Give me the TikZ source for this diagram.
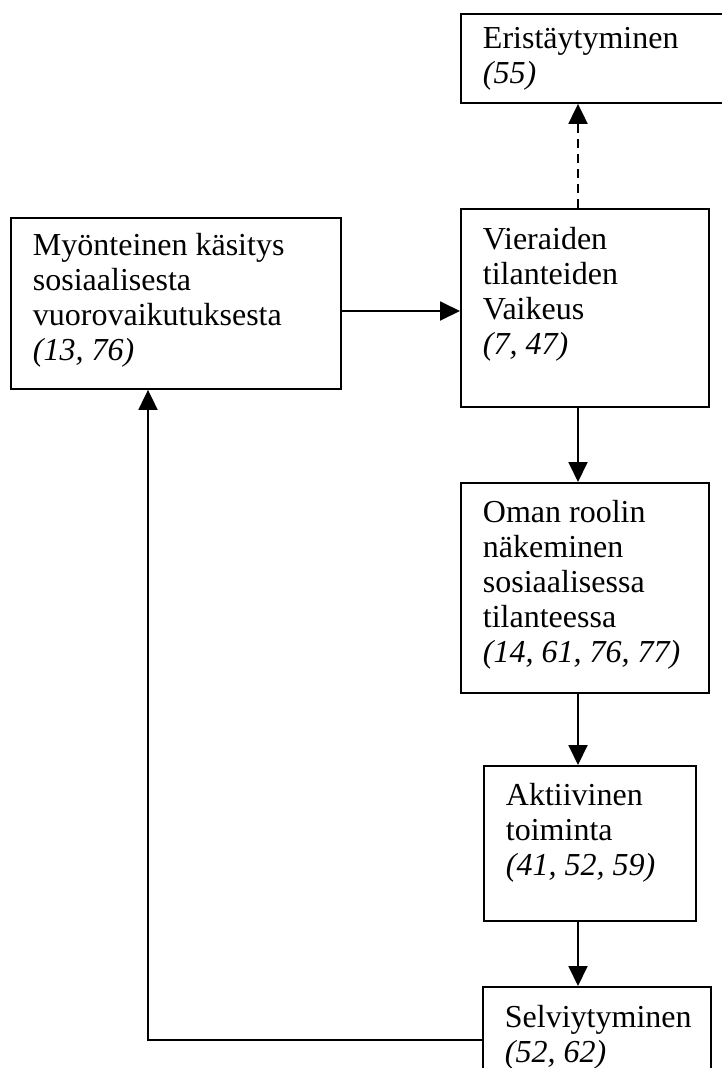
\documentclass[tikz,border=0pt]{standalone}
\usepackage{fontspec}
\setmainfont{Liberation Serif}
\usetikzlibrary{arrows.meta}

% box with text set from its top-left corner
% #1 width, #2 height, #3 first-baseline offset, #4 text
\newcommand\flowtext[4]{%
  \parbox[t][#2][t]{#1}{\raggedright\leftskip=22pt\rule{0pt}{#3}#4}}

\begin{document}
\begin{tikzpicture}[x=1pt,y=-1pt,
    every node/.style={font=\fontsize{32}{35}\selectfont},
    flowbox/.style={draw, line width=1.9pt, inner sep=0pt, anchor=north west},
    link/.style={line width=1.9pt, -{Triangle[length=20pt,width=19pt]}},
    optlink/.style={link, dash pattern=on 9pt off 6pt}]
  \useasboundingbox (0,0) rectangle (721,1068);

  \node[flowbox] (eri)  at (460,13)  {\flowtext{290pt}{89pt}{35pt}{Eristäytyminen\\\textit{(55)}}};
  \node[flowbox] (myon) at (10,217)  {\flowtext{330pt}{171pt}{38pt}{Myönteinen käsitys\\sosiaalisesta\\vuorovaikutuksesta\\\textit{(13, 76)}}};
  \node[flowbox] (vier) at (460,208) {\flowtext{248pt}{198pt}{41pt}{Vieraiden\\tilanteiden\\Vaikeus\\\textit{(7, 47)}}};
  \node[flowbox] (oman) at (460,482) {\flowtext{248pt}{210pt}{40pt}{Oman roolin\\näkeminen\\sosiaalisessa\\tilanteessa\\\textit{(14, 61, 76, 77)}}};
  \node[flowbox] (akti) at (483,765) {\flowtext{212pt}{155pt}{40pt}{Aktiivinen\\toiminta\\\textit{(41, 52, 59)}}};
  \node[flowbox] (selv) at (482,986) {\flowtext{228pt}{110pt}{41pt}{Selviytyminen\\\textit{(52, 62)}}};

  % routing guides
  \coordinate (axis) at (578,0);
  \coordinate (midy) at (0,311);
  \coordinate (back) at (148,1040);

  \draw[optlink] (vier.north -| axis) -- (eri.south -| axis);
  \draw[link] (myon.east |- midy) -- (vier.west |- midy);
  \draw[link] (vier.south -| axis) -- (oman.north -| axis);
  \draw[link] (oman.south -| axis) -- (akti.north -| axis);
  \draw[link] (akti.south -| axis) -- (selv.north -| axis);
  \draw[link] (selv.west |- back) -- (back) -- (myon.south -| back);
\end{tikzpicture}
\end{document}
